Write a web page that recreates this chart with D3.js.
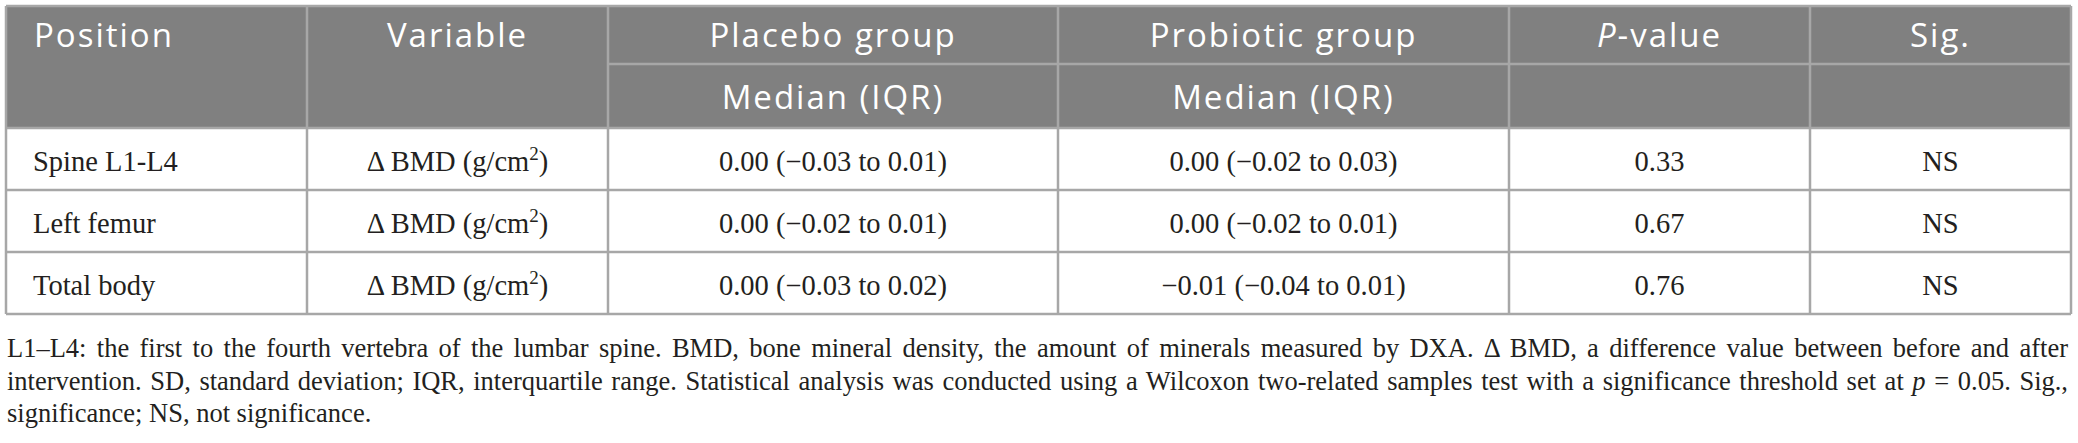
<!DOCTYPE html>
<html>
<head>
<meta charset="utf-8">
<script src="https://cdn.jsdelivr.net/npm/d3@7"></script>
<style>
  body { margin: 0; background: #fff; }
  svg { display: block; }
</style>
</head>
<body>
<div id="chart"></div>
<script>
// Table content
const headerTop = ["Position", "Variable", "Placebo group", "Probiotic group", "P-value", "Sig."];
const headerSub = [null, null, "Median (IQR)", "Median (IQR)", "", ""];
const positions = ["Spine L1-L4", "Left femur", "Total body"];
const variables = ["Δ BMD (g/cm2)", "Δ BMD (g/cm2)", "Δ BMD (g/cm2)"];
const placebo = ["0.00 (−0.03 to 0.01)", "0.00 (−0.02 to 0.01)", "0.00 (−0.03 to 0.02)"];
const probiotic = ["0.00 (−0.02 to 0.03)", "0.00 (−0.02 to 0.01)", "−0.01 (−0.04 to 0.01)"];
const pValues = ["0.33", "0.67", "0.76"];
const sig = ["NS", "NS", "NS"];
const footnoteLines = [
  "L1–L4: the first to the fourth vertebra of the lumbar spine. BMD, bone mineral density, the amount of minerals measured by DXA. Δ BMD, a difference value between before and after",
  "intervention. SD, standard deviation; IQR, interquartile range. Statistical analysis was conducted using a Wilcoxon two-related samples test with a significance threshold set at *p* = 0.05. Sig.,",
  "significance; NS, not significance."
];

// Layout
const width = 2078, height = 443;
const colWidths = [301, 301, 450, 451, 301, 261];
const tableLeft = 6, tableTop = 6, headSplit = 64, headBottom = 128, tableBottom = 314;
const lineColor = "#a7a7a7", headFill = "#808080", textColor = "#231f20";

const svg = d3.select("#chart").append("svg")
  .attr("width", width)
  .attr("height", height);

// Column edges through a linear scale
const edges = [0, ...d3.cumsum(colWidths)];
const x = d3.scaleLinear().domain([0, d3.sum(colWidths)]).range([tableLeft, tableLeft + d3.sum(colWidths)]);
const colLeft = i => x(edges[i]);
const colMid = i => (x(edges[i]) + x(edges[i + 1])) / 2;

// Data rows through a band scale
const y = d3.scaleBand().domain(positions).range([headBottom, tableBottom]);

// Header background
svg.append("rect")
  .attr("x", x(0))
  .attr("y", tableTop)
  .attr("width", x(edges[edges.length - 1]) - x(0))
  .attr("height", headBottom - tableTop)
  .attr("fill", headFill);

// Header text
const head = svg.append("g")
  .style("font-family", "'Open Sans', sans-serif")
  .style("font-size", "33px")
  .style("letter-spacing", "2px")
  .attr("fill", "#fff");

headerTop.forEach((label, i) => {
  const t = head.append("text")
    .attr("x", i === 0 ? colLeft(0) + 28 : colMid(i))
    .attr("y", tableTop + 41)
    .attr("text-anchor", i === 0 ? "start" : "middle");
  if (label.startsWith("P-")) {
    t.append("tspan").style("font-style", "italic").text("P");
    t.append("tspan").text(label.slice(1));
  } else {
    t.text(label);
  }
});

headerSub.forEach((label, i) => {
  if (!label) return;
  head.append("text")
    .attr("x", colMid(i))
    .attr("y", headSplit + 45)
    .attr("text-anchor", "middle")
    .text(label);
});

// Body cells
const body = svg.append("g")
  .style("font-family", "'Liberation Serif', 'Times New Roman', serif")
  .style("font-size", "28.5px")
  .attr("fill", textColor);

const columns = [positions, variables, placebo, probiotic, pValues, sig];
columns.forEach((col, ci) => {
  col.forEach((val, ri) => {
    const t = body.append("text")
      .attr("x", ci === 0 ? colLeft(0) + 27 : colMid(ci))
      .attr("y", y(positions[ri]) + 43)
      .attr("text-anchor", ci === 0 ? "start" : "middle");
    if (ci === 1) {
      // superscript on the unit
      t.append("tspan").text(val.slice(0, -2));
      t.append("tspan")
        .attr("dy", -11)
        .style("font-size", "19px")
        .text(val.slice(-2, -1));
      t.append("tspan").attr("dy", 11).text(val.slice(-1));
    } else {
      t.text(val);
    }
  });
});

// Grid lines
const grid = svg.append("g")
  .attr("stroke", lineColor)
  .attr("stroke-width", 2.5);

[tableTop, headBottom, ...positions.map(p => y(p) + y.bandwidth())].forEach(yy => {
  grid.append("line")
    .attr("x1", x(0)).attr("x2", x(edges[edges.length - 1]))
    .attr("y1", yy).attr("y2", yy);
});

// split line only under the grouped header cells
grid.append("line")
  .attr("x1", colLeft(2)).attr("x2", x(edges[edges.length - 1]))
  .attr("y1", headSplit).attr("y2", headSplit);

edges.forEach(e => {
  grid.append("line")
    .attr("x1", x(e)).attr("x2", x(e))
    .attr("y1", tableTop).attr("y2", tableBottom);
});

// Footnote, justified lines
const foot = svg.append("g")
  .style("font-family", "'Liberation Serif', 'Times New Roman', serif")
  .style("font-size", "26.5px")
  .attr("fill", textColor);

const footLeft = 7, footRight = 2068;
footnoteLines.forEach((line, i) => {
  const t = foot.append("text")
    .attr("x", footLeft)
    .attr("y", 357 + i * 32.5);
  line.split("*").forEach((part, k) => {
    if (!part) return;
    t.append("tspan")
      .style("font-style", k % 2 ? "italic" : "normal")
      .text(part);
  });
  if (i < footnoteLines.length - 1) {
    const natural = t.node().getComputedTextLength();
    const spaces = (line.match(/ /g) || []).length;
    t.style("word-spacing", ((footRight - footLeft - natural) / spaces) + "px");
  }
});
</script>
</body>
</html>
